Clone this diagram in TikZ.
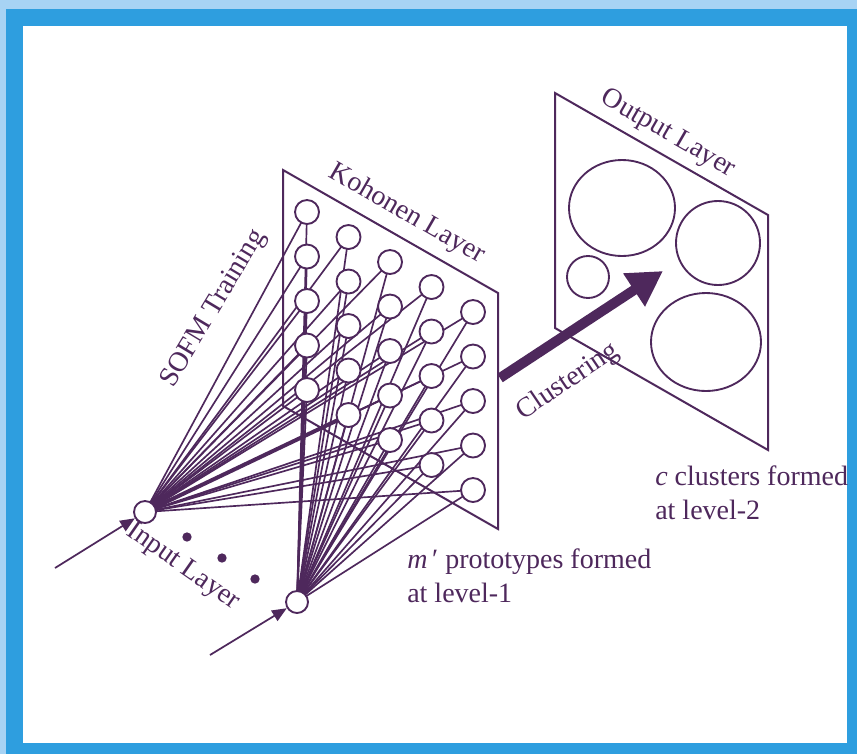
\documentclass[tikz,border=0pt]{standalone}
\usepackage{fontspec}
\setmainfont{Liberation Serif}
\usetikzlibrary{arrows.meta}

\definecolor{netpurple}{RGB}{78,40,92}
\definecolor{frameblue}{RGB}{46,158,223}
\definecolor{paleblue}{RGB}{167,211,244}

\pgfdeclarelayer{frame}
\pgfdeclarelayer{links}
\pgfsetlayers{frame,links,main}

\tikzset{every picture/.style={line width=0.75pt}}
\tikzset{
  kohnode/.style={circle, draw=netpurple, fill=white, line width=1.4pt, minimum size=18pt, inner sep=0pt},
  inpnode/.style={circle, draw=netpurple, fill=white, line width=1.4pt, minimum size=16.5pt, inner sep=0pt},
  dotnode/.style={circle, fill=netpurple, minimum size=7pt, inner sep=0pt},
  link/.style={draw=netpurple, line width=1.25pt},
  winlink/.style={draw=netpurple, line width=3pt},
  plane/.style={draw=netpurple, line width=1.5pt, line join=miter},
  cluster/.style={draw=netpurple, line width=1.4pt},
  inarrow/.style={draw=netpurple, line width=1.3pt, -{Triangle[length=11pt,width=9pt]}},
  clsarrow/.style={draw=netpurple, fill=netpurple, line width=7.5pt, -{Triangle[length=26pt,width=28pt]}},
  lbl/.style={text=netpurple, inner sep=0.75pt, font=\rmfamily\fontsize{21}{25.5}\selectfont}
}

\begin{document}
\begin{tikzpicture}[x=0.75pt,y=0.75pt,yscale=-1,xscale=1]
\useasboundingbox (0,0) rectangle (857,754);

% frame
\begin{pgfonlayer}{frame}
\fill [paleblue] (0,0) rectangle (857,754);
\fill [frameblue] (6,9) rectangle (857,754);
\fill [white] (23,26) rectangle (847,743);
%Shape: Kohonen plane
\draw [plane] (283,170) -- (498,293) -- (498,529) -- (283,406) -- cycle;
%Shape: Output plane
\draw [plane] (555,93) -- (768,215) -- (768,450) -- (555,328) -- cycle;
\end{pgfonlayer}

% Kohonen grid
\foreach \c in {0,...,4}
  \foreach \r in {0,...,4}
    \node [kohnode] (k-\c-\r) at ({307+41.5*\c},{212+25*\c+44.5*\r}) {};

% Input nodes
\node [inpnode] (in1) at (145,512) {};
\node [inpnode] (in2) at (297,602) {};
\coordinate (src1) at (55,568);
\coordinate (src2) at (210,655);
\node [dotnode] (dot1) at (187,537) {};
\node [dotnode] (dot2) at (222,558) {};
\node [dotnode] (dot3) at (255,579) {};

% weights
\begin{pgfonlayer}{links}
\foreach \c in {0,...,4}
  \foreach \r in {0,...,4} {
    \draw [link] (in1.center) -- (k-\c-\r.center);
    \draw [link] (in2.center) -- (k-\c-\r.center);
  }
\draw [winlink] (in1.center) -- (k-1-4.center);
\end{pgfonlayer}

\draw [inarrow] (src1) -- (in1);
\draw [inarrow] (src2) -- (in2);

%Shape: Ellipse clusters
\draw [cluster] (622,208) ellipse [x radius=39.75pt, y radius=36pt];
\draw [cluster] (718,243) ellipse [x radius=31.5pt, y radius=31.5pt];
\draw [cluster] (588,277) ellipse [x radius=15.75pt, y radius=15.75pt];
\draw [cluster] (706,342) ellipse [x radius=41.25pt, y radius=36.75pt];

% Clustering arrow
\coordinate (clsA) at (500,378);
\coordinate (clsB) at (663,271);
\draw [clsarrow] (clsA) -- (clsB);

% Text Node
\node [lbl, rotate=-35] (lblin) at (183,567) {Input Layer};
% Text Node
\node [lbl, rotate=59] (lblsofm) at (214,309) {SOFM Training};
% Text Node
\node [lbl, rotate=-30] (lblkoh) at (407,214) {Kohonen Layer};
% Text Node
\node [lbl, rotate=-30] (lblout) at (668,134) {Output Layer};
% Text Node
\node [lbl, rotate=34] (lblcls) at (568,382) {Clustering};
% Text Node
\node [lbl, anchor=north west, align=left] (lblproto) at (406,548) {\textit{m}\,′ prototypes formed\\at level-1};
% Text Node
\node [lbl, anchor=north west, align=left] (lblclus) at (654,465) {\textit{c} clusters formed\\at level-2};

\end{tikzpicture}
\end{document}
